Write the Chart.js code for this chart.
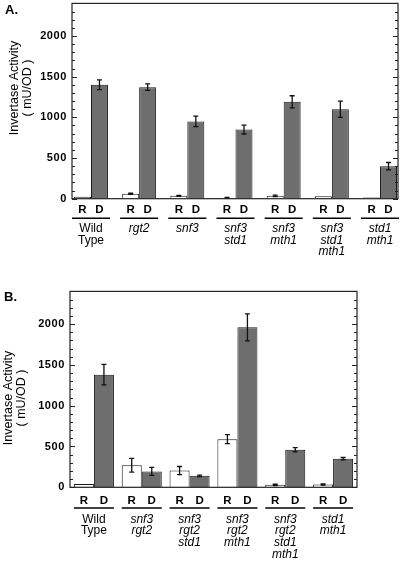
<!DOCTYPE html>
<html>
<head>
<meta charset="utf-8">
<script src="https://cdn.jsdelivr.net/npm/chart.js@4.4.1/dist/chart.umd.min.js"></script>
<style>
  body { margin: 0; background: #fff; }
  canvas { position: absolute; left: 0; }
  #panelA { top: 0; }
  #panelB { top: 270px; }
</style>
</head>
<body>
<canvas id="panelA" width="403" height="270"></canvas>
<canvas id="panelB" width="403" height="292"></canvas>
<script>
// panel A
const strainsA = [['Wild', 'Type'], ['rgt2'], ['snf3'], ['snf3', 'std1'], ['snf3', 'mth1'], ['snf3', 'std1', 'mth1'], ['std1', 'mth1']];
const italicA = [false, true, true, true, true, true, true];
const repressedA = [25, 60, 35, 10, 35, 30, 15];
const repressedErrA = [0, 8, 5, 5, 10, 0, 0];
const derepressedA = [1400, 1370, 950, 850, 1190, 1100, 400];
const derepressedErrA = [60, 40, 65, 55, 75, 100, 45];

// panel B
const strainsB = [['Wild', 'Type'], ['snf3', 'rgt2'], ['snf3', 'rgt2', 'std1'], ['snf3', 'rgt2', 'mth1'], ['snf3', 'rgt2', 'std1', 'mth1'], ['std1', 'mth1']];
const italicB = [false, true, true, true, true, true];
const repressedB = [40, 270, 205, 590, 30, 35];
const repressedErrB = [0, 85, 50, 55, 8, 8];
const derepressedB = [1380, 195, 140, 1960, 460, 350];
const derepressedErrB = [125, 50, 8, 165, 25, 15];

// axes
const yTicks = [0, 500, 1000, 1500, 2000];
const yMax = 2400;
const minorStep = 100;
const conditionLabels = ['R', 'D'];

const FONT = '"Liberation Sans", Arial, Helvetica, sans-serif';
Chart.defaults.font.family = FONT;
Chart.defaults.color = '#000';

const figurePlugin = {
    id: 'figure',
    beforeDraw(chart) {
        // the scanned tick numbers are spaced out a little
        chart.ctx.letterSpacing = '0.6px';
    },
    afterDatasetsDraw(chart) {
        const ctx = chart.ctx;
        const y = chart.scales.y;
        ctx.save();
        ctx.strokeStyle = '#111';
        ctx.lineWidth = 1.3;
        chart.data.datasets.forEach((ds, di) => {
            const meta = chart.getDatasetMeta(di);
            meta.data.forEach((bar, i) => {
                const err = ds.errors[i];
                if (!err) return;
                const v = ds.data[i].y;
                const top = y.getPixelForValue(v + err);
                const bot = y.getPixelForValue(Math.max(v - err, 0));
                ctx.beginPath();
                ctx.moveTo(bar.x, top); ctx.lineTo(bar.x, bot);
                ctx.moveTo(bar.x - 2.5, top); ctx.lineTo(bar.x + 2.5, top);
                ctx.moveTo(bar.x - 2.5, bot); ctx.lineTo(bar.x + 2.5, bot);
                ctx.stroke();
            });
        });
        ctx.restore();
    },
    afterDraw(chart) {
        const o = chart.options.plugins.figure;
        const ctx = chart.ctx;
        const a = chart.chartArea;
        const y = chart.scales.y;
        ctx.save();
        ctx.letterSpacing = '0px';

        // frame
        ctx.strokeStyle = '#222';
        ctx.lineWidth = 1.2;
        ctx.strokeRect(a.left, a.top, a.right - a.left, a.bottom - a.top);

        // inward ticks, both sides
        ctx.lineWidth = 1;
        ctx.beginPath();
        for (let v = 0; v <= yMax; v += minorStep) {
            const py = Math.round(y.getPixelForValue(v)) + 0.5;
            const len = v % 500 === 0 ? 5 : 3;
            ctx.moveTo(a.left, py); ctx.lineTo(a.left + len, py);
            ctx.moveTo(a.right, py); ctx.lineTo(a.right - len, py);
        }
        ctx.stroke();

        // R / D row, underline, strain names
        const m0 = chart.getDatasetMeta(0), m1 = chart.getDatasetMeta(1);
        ctx.fillStyle = '#000';
        ctx.strokeStyle = '#000';
        ctx.textAlign = 'center';
        ctx.textBaseline = 'middle';
        o.strains.forEach((lines, i) => {
            const xr = m0.data[i].x, xd = m1.data[i].x;
            const cx = (xr + xd) / 2;
            ctx.font = 'bold 11.5px ' + FONT;
            ctx.fillText(conditionLabels[0], xr, a.bottom + o.rdY);
            ctx.fillText(conditionLabels[1], xd, a.bottom + o.rdY);
            ctx.lineWidth = 1.5;
            ctx.beginPath();
            ctx.moveTo(cx - o.lineHalf, a.bottom + o.lineY);
            ctx.lineTo(cx + o.lineHalf, a.bottom + o.lineY);
            ctx.stroke();
            ctx.font = (o.italic[i] ? 'italic ' : '') + '12px ' + FONT;
            lines.forEach((t, k) => {
                ctx.fillText(t, cx, a.bottom + o.nameY + k * o.nameGap);
            });
        });

        // y title
        ctx.font = '12.5px ' + FONT;
        ctx.save();
        ctx.translate(o.titleX[0], o.titleY);
        ctx.rotate(-Math.PI / 2);
        ctx.fillText('Invertase Activity', 0, 0);
        ctx.restore();
        ctx.save();
        ctx.translate(o.titleX[1], o.titleY);
        ctx.rotate(-Math.PI / 2);
        ctx.fillText('( mU/OD )', 0, 0);
        ctx.restore();

        // panel letter
        ctx.font = 'bold 13px ' + FONT;
        ctx.textAlign = 'left';
        ctx.textBaseline = 'top';
        ctx.fillText(o.letter, o.letterPos[0], o.letterPos[1]);
        ctx.restore();
    }
};

function makePanel(canvasId, p) {
    const canvas = document.getElementById(canvasId);
    const ctx = canvas.getContext('2d');
    const toXY = arr => arr.map((v, i) => ({ x: i, y: v }));
    return new Chart(ctx, {
        type: 'bar',
        data: {
            datasets: [
                {
                    label: 'R',
                    data: toXY(p.repressed),
                    errors: p.repressedErr,
                    backgroundColor: '#ffffff',
                    borderColor: '#1a1a1a',
                    borderWidth: 1,
                    categoryPercentage: p.catPct,
                    barPercentage: 1
                },
                {
                    label: 'D',
                    data: toXY(p.derepressed),
                    errors: p.derepressedErr,
                    backgroundColor: '#6e6e6e',
                    borderColor: '#1a1a1a',
                    borderWidth: 1,
                    categoryPercentage: p.catPct,
                    barPercentage: 1
                }
            ]
        },
        options: {
            responsive: false,
            animation: false,
            layout: { padding: p.padding },
            plugins: {
                legend: { display: false },
                tooltip: { enabled: false },
                figure: p.figure
            },
            scales: {
                x: {
                    type: 'linear',
                    display: false,
                    offset: false,
                    min: p.xMin,
                    max: p.xMax,
                    // one tick per strain so the bar ruler uses the group spacing
                    afterBuildTicks: s => { s.ticks = p.figure.strains.map((_, i) => ({ value: i })); }
                },
                y: {
                    min: 0,
                    max: yMax,
                    grid: { display: false, drawTicks: false },
                    border: { display: false },
                    afterBuildTicks: s => { s.ticks = yTicks.map(v => ({ value: v })); },
                    afterFit: s => {
                        s.width = p.axisWidth;
                        s.paddingTop = 0;
                        s.paddingBottom = 0;
                    },
                    ticks: {
                        padding: 5,
                        font: { size: 11, weight: 'bold' },
                        color: '#000',
                        callback: v => String(v)
                    }
                }
            }
        },
        plugins: [figurePlugin]
    });
}

makePanel('panelA', {
    repressed: repressedA, repressedErr: repressedErrA,
    derepressed: derepressedA, derepressedErr: derepressedErrA,
    catPct: 0.705,
    xMin: -0.394, xMax: 6.373,
    axisWidth: 72,
    padding: { left: 0, right: 5, top: 3.4, bottom: 71.3 },
    figure: {
        strains: strainsA, italic: italicA, letter: 'A.', letterPos: [5, 4],
        rdY: 11.5, lineY: 19.5, lineHalf: 19, nameY: 30, nameGap: 11.5,
        titleX: [15, 28], titleY: 88
    }
});

makePanel('panelB', {
    repressed: repressedB, repressedErr: repressedErrB,
    derepressed: derepressedB, derepressedErr: derepressedErrB,
    catPct: 0.837,
    xMin: -0.5, xMax: 5.5,
    axisWidth: 70,
    padding: { left: 0, right: 46, top: 21.4, bottom: 74.7 },
    figure: {
        strains: strainsB, italic: italicB, letter: 'B.', letterPos: [4, 21],
        rdY: 13.4, lineY: 20.7, lineHalf: 20, nameY: 32, nameGap: 11.7,
        titleX: [9, 22], titleY: 128
    }
});
</script>
</body>
</html>
